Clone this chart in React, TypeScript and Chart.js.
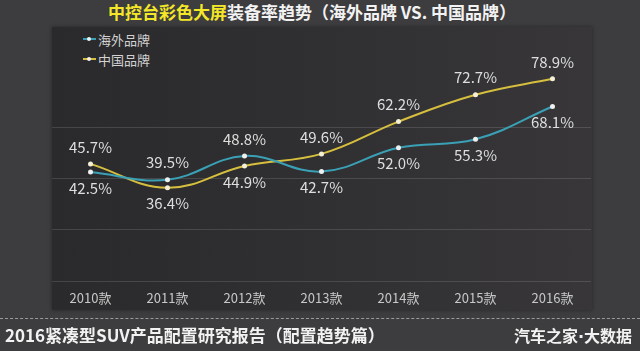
import React, { useEffect, useRef } from "react";
import { Chart, registerables } from "chart.js";

Chart.register(...registerables);

const categories = ["2010款", "2011款", "2012款", "2013款", "2014款", "2015款", "2016款"];
const overseasName = "海外品牌";
const domesticName = "中国品牌";
const overseasValues = [42.5, 39.5, 48.8, 42.7, 52.0, 55.3, 68.1];
const domesticValues = [45.7, 36.4, 44.9, 49.6, 62.2, 72.7, 78.9];
const yTicks = [0, 20, 40, 60, 80];

const OVERSEAS_COLOR = "#3aa0b6";
const DOMESTIC_COLOR = "#d6bf3e";
const FONT = '"Noto Sans CJK SC", "Noto Sans", sans-serif';

const labelPlugin = {
  id: "valueLabels",
  afterDatasetsDraw(chart: any) {
    const ctx = chart.ctx;
    ctx.save();
    ctx.font = `15px ${FONT}`;
    ctx.fillStyle = "#dedede";
    ctx.textAlign = "center";
    ctx.textBaseline = "middle";
    chart.data.datasets.forEach((ds: any, di: number) => {
      const other = chart.data.datasets[1 - di];
      const meta = chart.getDatasetMeta(di);
      meta.data.forEach((pt: any, i: number) => {
        const v = ds.data[i];
        const above = v >= other.data[i];
        const y = above ? pt.y - 17 : pt.y + 16;
        ctx.fillText(v.toFixed(1) + "%", pt.x, y);
      });
    });
    // category labels under the axis
    const xScale = chart.scales.x;
    ctx.font = `13px ${FONT}`;
    ctx.fillStyle = "#c8c8c8";
    chart.data.labels.forEach((lab: string, i: number) => {
      ctx.fillText(lab, xScale.getPixelForValue(i), chart.chartArea.bottom + 17);
    });
    ctx.restore();
  },
};

function LegendItem({ color, text, top }: { color: string; text: string; top: number }) {
  return (
    <div style={{ position: "absolute", left: 82, top, height: 16, display: "flex", alignItems: "center" }}>
      <div style={{ position: "relative", width: 15, height: 16 }}>
        <div style={{ position: "absolute", left: 1, top: 7, width: 13, height: 2, background: color }} />
        <div style={{ position: "absolute", left: 5, top: 6, width: 4, height: 4, borderRadius: 2, background: "#f2f2f2" }} />
      </div>
      <span style={{ color: "#d2d2d2", fontSize: 13, marginLeft: 1, fontFamily: FONT }}>{text}</span>
    </div>
  );
}

export default function App() {
  const canvasRef = useRef<HTMLCanvasElement | null>(null);

  useEffect(() => {
    if (!canvasRef.current) return;
    const chart = new Chart(canvasRef.current, {
      type: "line",
      data: {
        labels: categories,
        datasets: [
          {
            label: overseasName,
            data: overseasValues,
            borderColor: OVERSEAS_COLOR,
            borderWidth: 2,
            tension: 0.4,
            pointRadius: 2.5,
            pointBackgroundColor: "#f0f0f0",
            pointBorderColor: "#f0f0f0",
            pointBorderWidth: 0,
          },
          {
            label: domesticName,
            data: domesticValues,
            borderColor: DOMESTIC_COLOR,
            borderWidth: 2,
            tension: 0.4,
            pointRadius: 2.5,
            pointBackgroundColor: "#f4f0d8",
            pointBorderColor: "#f4f0d8",
            pointBorderWidth: 0,
          },
        ],
      },
      options: {
        animation: false,
        responsive: false,
        layout: { padding: { left: 52, right: 49, top: 76, bottom: 70 } },
        plugins: { legend: { display: false }, tooltip: { enabled: false } },
        scales: {
          x: {
            type: "category",
            offset: true,
            grid: { display: false, drawTicks: false },
            border: { display: false },
            ticks: { display: false },
          },
          y: {
            min: yTicks[0],
            max: yTicks[yTicks.length - 1],
            afterBuildTicks: (axis: any) => {
              axis.ticks = yTicks.map((v) => ({ value: v }));
            },
            ticks: { display: false },
            grid: {
              drawTicks: false,
              color: (c: any) =>
                c.tick && c.tick.value === yTicks[yTicks.length - 1] ? "rgba(0,0,0,0)" : "rgba(255,255,255,0.13)",
            },
            border: { display: false },
          },
        },
      },
      plugins: [labelPlugin],
    });
    return () => chart.destroy();
  }, []);

  return (
    <div
      style={{
        position: "fixed",
        left: 0,
        top: 0,
        width: 640,
        height: 351,
        overflow: "hidden",
        background: "#3d3c3e",
        fontFamily: FONT,
      }}
    >
      <div
        style={{
          position: "absolute",
          left: 0,
          top: 1,
          width: 624,
          textAlign: "center",
          fontSize: 17,
          fontWeight: "bold",
          color: "#f2f2f2",
          lineHeight: "22px",
          whiteSpace: "pre",
        }}
      >
        <span style={{ color: "#f3e728" }}>中控台彩色大屏</span>装备率趋势（海外品牌 VS. 中国品牌）
      </div>
      <div
        style={{
          position: "absolute",
          left: 52,
          top: 27,
          width: 540,
          height: 283,
          background: "linear-gradient(to right, #2a2a2c, #302f31 50%, #383639)",
          boxShadow: "0 0 4px rgba(0,0,0,0.4)",
        }}
      />
      <LegendItem color={OVERSEAS_COLOR} text={overseasName} top={31} />
      <LegendItem color={DOMESTIC_COLOR} text={domesticName} top={51} />
      <canvas ref={canvasRef} width={640} height={351} style={{ position: "absolute", left: 0, top: 0 }} />
      <div
        style={{
          position: "absolute",
          left: 0,
          top: 318,
          width: 640,
          borderTop: "1px dashed #9a9a9a",
        }}
      />
      <div
        style={{
          position: "absolute",
          left: 5,
          top: 323,
          fontSize: 17,
          fontWeight: "bold",
          color: "#f2f2f2",
          lineHeight: "24px",
        }}
      >
        2016紧凑型SUV产品配置研究报告（配置趋势篇）
      </div>
      <div
        style={{
          position: "absolute",
          right: 8,
          top: 323,
          fontSize: 16,
          fontWeight: "bold",
          color: "#f2f2f2",
          lineHeight: "24px",
          whiteSpace: "pre",
        }}
      >
        汽车之家<span style={{ fontFamily: '"DejaVu Sans", sans-serif' }}>·</span>大数据
      </div>
    </div>
  );
}
